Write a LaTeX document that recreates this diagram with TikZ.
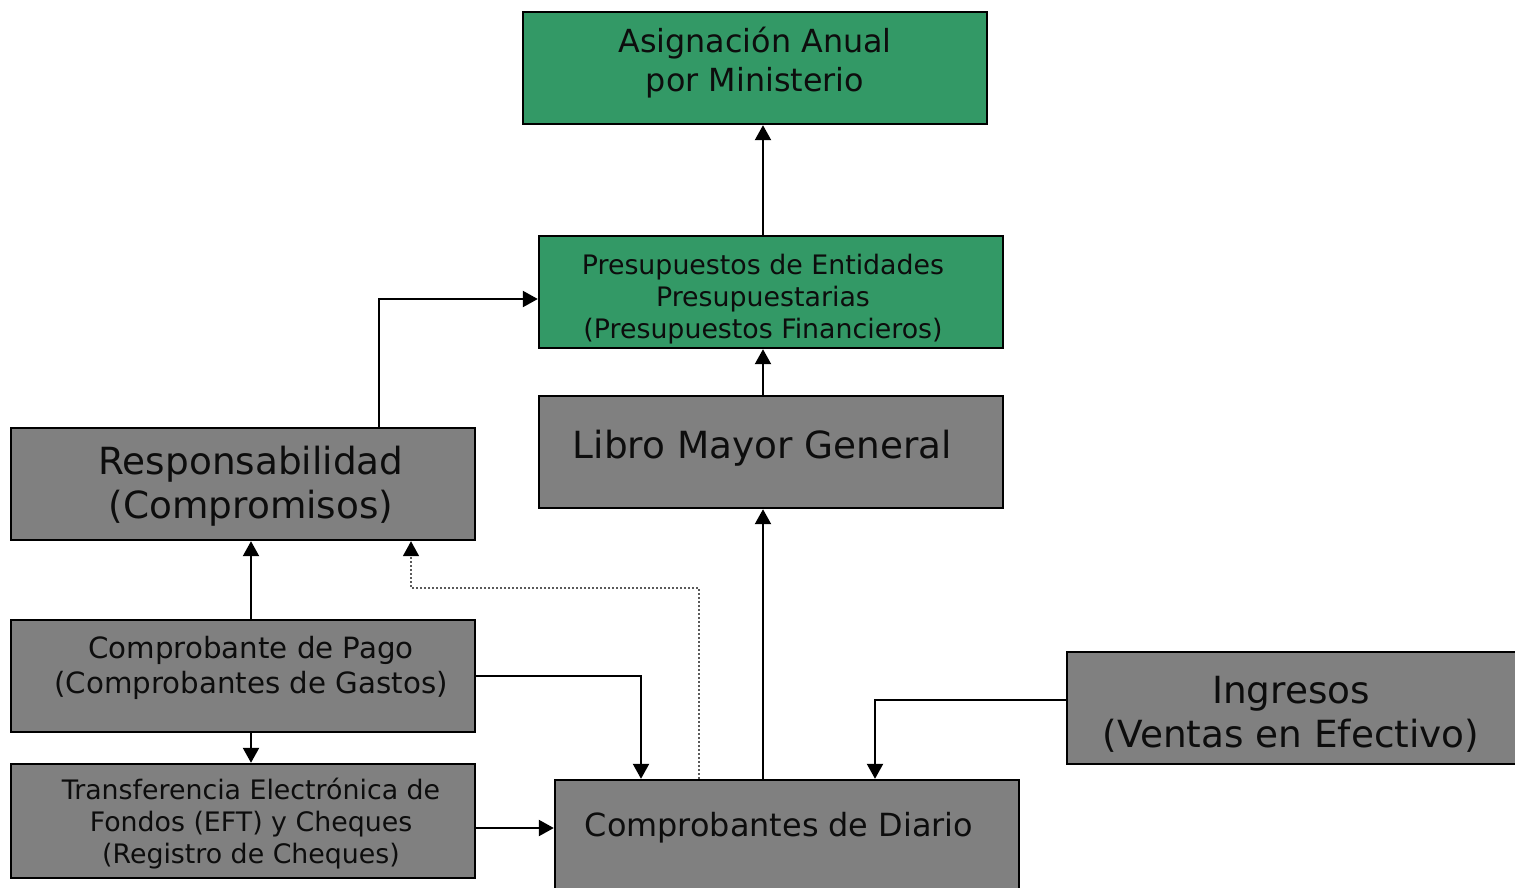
\documentclass[tikz,border=0pt]{standalone}
\usepackage{fontspec}
\setmainfont{DejaVu Sans}
\usetikzlibrary{arrows.meta}
\definecolor{boxgreen}{RGB}{51,153,102}
\definecolor{boxgray}{RGB}{128,128,128}
\definecolor{dotgray}{RGB}{90,90,90}
\tikzset{
  box/.style={draw=black, line width=2.4pt, inner sep=0pt},
  greenbox/.style={box, fill=boxgreen},
  graybox/.style={box, fill=boxgray},
  lbl/.style={align=center, inner sep=0pt, text=black!95},
  arr/.style={line width=2.2pt, -{Triangle[length=15pt,width=16pt]}},
  dotarr/.style={line width=1.6pt, dotgray, dash pattern=on 2pt off 2pt, -{Triangle[length=15pt,width=16pt,color=black]}}
}
\newcommand{\fs}[2]{\fontsize{#1}{#2}\selectfont}
\begin{document}
\begin{tikzpicture}[x=1pt,y=-1pt]
\useasboundingbox (0,0) rectangle (1515,887);
\clip (0,0) rectangle (1515,887);
% boxes
\node[greenbox, minimum width=464pt, minimum height=112pt] (asig) at (755,68) {};
\node[greenbox, minimum width=464pt, minimum height=112pt] (pres) at (771,292) {};
\node[graybox, minimum width=464pt, minimum height=112pt] (libro) at (771,452) {};
\node[graybox, minimum width=464pt, minimum height=112pt] (resp) at (243,484) {};
\node[graybox, minimum width=464pt, minimum height=112pt] (pago) at (243,676) {};
\node[graybox, minimum width=464pt, minimum height=114pt] (transf) at (243,821) {};
\node[graybox, minimum width=464pt, minimum height=120pt] (diario) at (787,840) {};
\node[graybox, minimum width=453pt, minimum height=112pt] (ingr) at (1293.5,708) {};
% texts
\node[lbl, font=\fs{31.8}{39}] (tasig) at (755,63) {Asignación Anual\\por Ministerio};
\node[lbl, font=\fs{26.8}{32}] (tpres) at (763,299) {Presupuestos de Entidades\\Presupuestarias\\(Presupuestos Financieros)};
\node[lbl, font=\fs{37.4}{44}] (tlibro) at (762.5,448) {Libro Mayor General};
\node[lbl, font=\fs{37.4}{44}] (tresp) at (251,486) {Responsabilidad\\(Compromisos)};
\node[lbl, font=\fs{29.3}{35}] (tpago) at (251,668) {Comprobante de Pago\\(Comprobantes de Gastos)};
\node[lbl, font=\fs{26.8}{32}] (ttransf) at (251,824) {Transferencia Electrónica de\\Fondos (EFT) y Cheques\\(Registro de Cheques)};
\node[lbl, font=\fs{31.9}{39}] (tdiario) at (779,828) {Comprobantes de Diario};
\node[lbl, font=\fs{37.4}{44}] (tingr) at (1291,714) {Ingresos\\(Ventas en Efectivo)};
% connectors
\draw[arr] ([xshift=-8pt]pres.north) -- ([xshift=-8pt]pres.north |- asig.south);
\draw[arr] ([xshift=-8pt]libro.north) -- ([xshift=-8pt]libro.north |- pres.south);
\draw[arr] ([xshift=136pt]resp.north) |- ([yshift=-7pt]pres.west);
\draw[arr] ([xshift=8pt]pago.north) -- ([xshift=8pt]pago.north |- resp.south);
\draw[arr] ([xshift=8pt]pago.south) -- ([xshift=8pt]pago.south |- transf.north);
\draw[arr] (pago.east) -| ([xshift=-146pt]diario.north);
\draw[arr] ([yshift=-7pt]transf.east) -- ([yshift=-7pt]transf.east -| diario.west);
\draw[arr] ([xshift=-24pt]diario.north) -- ([xshift=-24pt]diario.north |- libro.south);
\draw[arr] ([yshift=8pt]ingr.west) -| ([xshift=88pt]diario.north);
\coordinate (dotc) at (411,588);
\draw[dotarr] ([xshift=-88pt]diario.north) |- (dotc) -- ([xshift=168pt]resp.south);
\end{tikzpicture}
\end{document}
